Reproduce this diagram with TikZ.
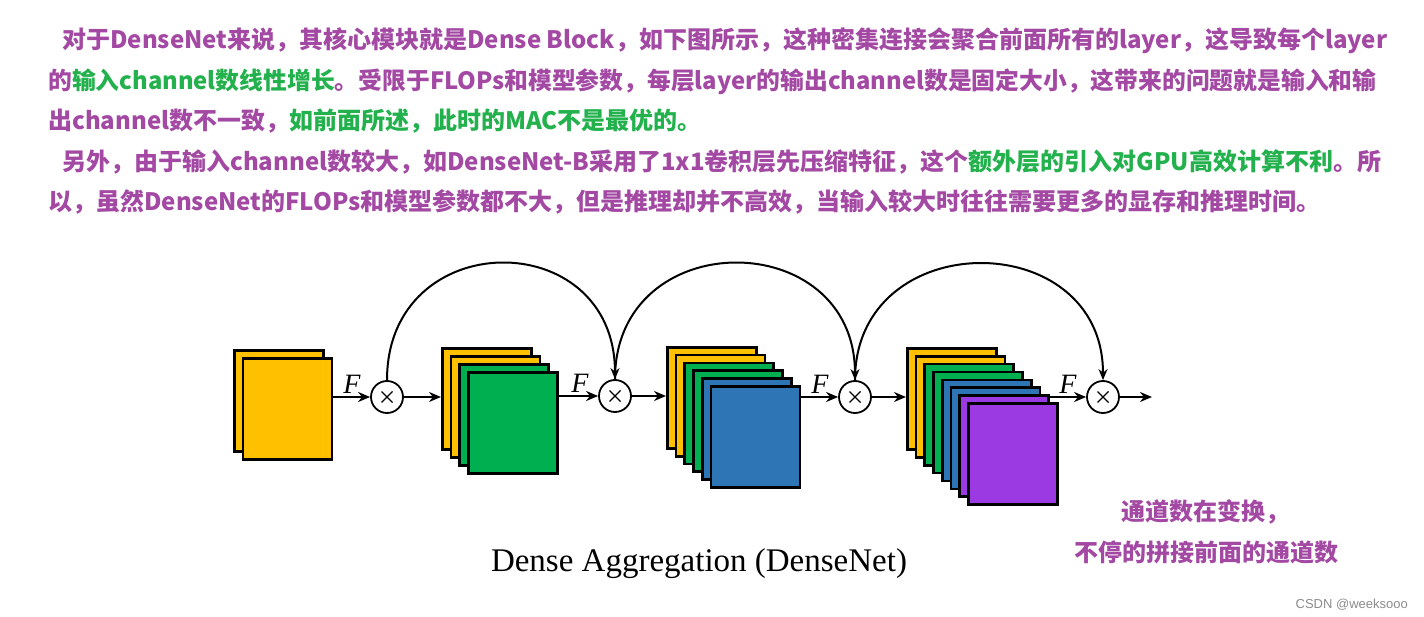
\documentclass[tikz,border=0pt]{standalone}
\usepackage{fontspec}
\setmainfont{Liberation Serif}
\newfontfamily\cjk{Noto Sans CJK SC}
\newfontfamily\wmk{Liberation Sans}
\usetikzlibrary{arrows.meta,positioning}

\definecolor{notepurple}{RGB}{163,73,164}
\definecolor{notegreen}{RGB}{34,177,76}
\definecolor{fyellow}{RGB}{255,192,0}
\definecolor{fgreen}{RGB}{0,176,80}
\definecolor{fblue}{RGB}{46,117,182}
\definecolor{fpurple}{RGB}{155,58,226}

\tikzset{
  note/.style={anchor=base west, inner sep=0pt, text=notepurple,
    font=\cjk\bfseries\fontsize{24}{24}\selectfont},
  fmap/.style={draw=black, line width=2.7pt, anchor=north west,
    minimum width=89pt, minimum height=101pt, inner sep=0pt},
  mult/.style={circle, draw, line width=1.8pt, minimum size=32pt, inner sep=0pt, fill=white},
  flow/.style={line width=2.2pt, -{Stealth[length=12pt,width=10pt]}},
  dense/.style={line width=2pt, -{Stealth[length=11pt,width=9pt]}},
  flabel/.style={anchor=base, inner sep=0pt, font=\itshape\fontsize{28}{28}\selectfont}
}

\begin{document}
\begin{tikzpicture}[x=1pt,y=-1pt]

  \useasboundingbox[fill=white] (0,0) rectangle (1424,617);

  % text above the figure
  \node[note] (l1) at (62,49) {对于DenseNet来说，其核心模块就是Dense Block，如下图所示，这种密集连接会聚合前面所有的layer，这导致每个layer};
  \node[note, font=\cjk\bfseries\fontsize{23.8}{24}\selectfont] (l2) at (48,89.5) {的{\color{notegreen}输入channel数线性增长}。受限于FLOPs和模型参数，每层layer的输出channel数是固定大小，这带来的问题就是输入和输};
  \node[note] (l3) at (48,130) {出channel数不一致，{\color{notegreen}如前面所述，此时的MAC不是最优的。}};
  \node[note] (l4) at (62,170.5) {另外，由于输入channel数较大，如DenseNet-B采用了1x1卷积层先压缩特征，这个{\color{notegreen}额外层的引入对GPU高效计算不利}。所};
  \node[note] (l5) at (48,211) {以，虽然DenseNet的FLOPs和模型参数都不大，但是推理却并不高效，当输入较大时往往需要更多的显存和推理时间。};

  % feature maps
  \foreach \c [count=\k from 0] in {fyellow,fyellow}
    \node[fmap, fill=\c] (s1-\k) at (233+8.7*\k, 349+8*\k) {};
  \foreach \c [count=\k from 0] in {fyellow,fyellow,fgreen,fgreen}
    \node[fmap, fill=\c] (s2-\k) at (441+8.7*\k, 347+8*\k) {};
  \foreach \c [count=\k from 0] in {fyellow,fyellow,fgreen,fgreen,fblue,fblue}
    \node[fmap, fill=\c] (s3-\k) at (666+8.7*\k, 346+7.8*\k) {};
  \foreach \c [count=\k from 0] in {fyellow,fyellow,fgreen,fgreen,fblue,fblue,fpurple,fpurple}
    \node[fmap, fill=\c] (s4-\k) at (906+8.7*\k, 347+7.9*\k) {};

  % concatenation nodes
  \node[mult] (c1) at (387,397) {};
  \node[mult] (c2) at (615,396) {};
  \node[mult] (c3) at (855,397) {};
  \node[mult] (c4) at (1103,397) {};
  \coordinate (out) at (1152,397);
  \foreach \i in {1,...,4} {
    \draw[line width=1.3pt] ([shift={(-5.5,-5.5)}]c\i.center) -- ([shift={(5.5,5.5)}]c\i.center);
    \draw[line width=1.3pt] ([shift={(-5.5,5.5)}]c\i.center) -- ([shift={(5.5,-5.5)}]c\i.center);
    \node[flabel] (f\i) at ([shift={(-35,-4)}]c\i.center) {F};
  }

  % straight connections
  \draw[flow] (s1-1.east |- c1) -- (c1);
  \draw[flow] (c1) -- (s2-0.west |- c1);
  \draw[flow] (s2-3.east |- c2) -- (c2);
  \draw[flow] (c2) -- (s3-0.west |- c2);
  \draw[flow] (s3-5.east |- c3) -- (c3);
  \draw[flow] (c3) -- (s4-0.west |- c3);
  \draw[flow] (s4-6.east |- c4) -- (c4);
  \draw[flow] (c4) -- (out);

  % dense skip arcs
  \draw[dense] (c1.north) .. controls ([yshift=155pt]c1.north) and ([yshift=155pt]c2.north) .. (c2.north);
  \draw[dense] (c2.north) .. controls ([yshift=155pt]c2.north) and ([yshift=155pt]c3.north) .. (c3.north);
  \draw[dense] (c3.north) .. controls ([yshift=155pt]c3.north) and ([yshift=155pt]c4.north) .. (c4.north);

  % captions
  \node[anchor=base, inner sep=0pt, font=\fontsize{33}{33}\selectfont] (cap) at (699,571) {Dense Aggregation (DenseNet)};
  \node[note, anchor=base] (n1) at (1205,520) {通道数在变换，};
  \node[note, anchor=base] (n2) at (1206,561) {不停的拼接前面的通道数};
  \node[anchor=base east, inner sep=0pt, text=black!45, font=\wmk\fontsize{13}{13}\selectfont] (wm) at (1408,608) {CSDN @weeksooo};

\end{tikzpicture}
\end{document}
